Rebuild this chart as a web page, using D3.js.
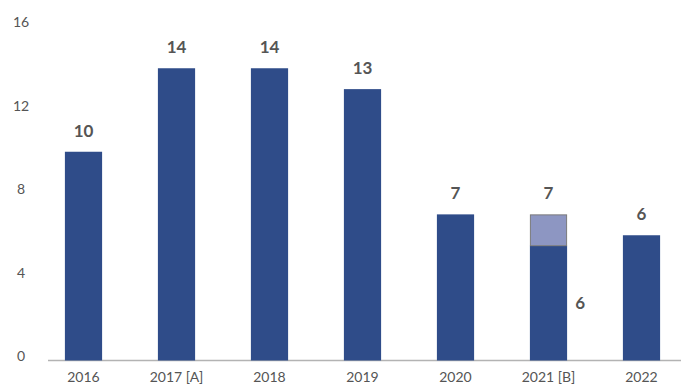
<!DOCTYPE html>
<html><head><meta charset="utf-8">
<script src="https://cdn.jsdelivr.net/npm/d3@7"></script>
<style>body{margin:0;background:#fff}svg{display:block}</style>
</head><body><svg id="c" width="681" height="389"></svg>
<script>
const categories = ["2016","2017 [A]","2018","2019","2020","2021 [B]","2022"];
const baseValues = [10,14,14,13,7,5.5,6];
const extraValues = [0,0,0,0,0,1.5,0];
const totalLabels = ["10","14","14","13","7","7","6"];
const innerLabels = ["","","","","","6",""];
const yTicks = [0,4,8,12,16];

const svg = d3.select("#c");
const x = d3.scaleBand().domain(categories).range([37,688]).paddingInner(0.6).paddingOuter(0.3);
const y = d3.scaleLinear().domain([0,16]).range([360.5,26.5]);
const font = "Lato, 'Open Sans', sans-serif";

// baseline
svg.append("line").attr("x1",48).attr("x2",681).attr("y1",y(0)).attr("y2",y(0))
  .attr("stroke","#b3b3b3").attr("stroke-width",1.3);

// y tick labels
svg.append("g").selectAll("text").data(yTicks).join("text")
  .attr("x",21).attr("y",d=>y(d)-4).attr("text-anchor","middle").attr("dy","0.35em")
  .attr("font-family",font).attr("font-size",14).attr("fill","#555").text(d=>d);

// x labels
svg.append("g").selectAll("text").data(categories).join("text")
  .attr("x",d=>x(d)+x.bandwidth()/2).attr("y",377).attr("text-anchor","middle").attr("dy","0.35em")
  .attr("font-family",font).attr("font-size",14).attr("fill","#555").text(d=>d);

// base bars
svg.append("g").selectAll("rect").data(categories).join("rect")
  .attr("x",d=>x(d)).attr("width",x.bandwidth())
  .attr("y",(d,i)=>y(baseValues[i])).attr("height",(d,i)=>y(0)-y(baseValues[i]))
  .attr("fill","#2f4c89");

// extra segments
svg.append("g").selectAll("rect").data(categories.filter((d,i)=>extraValues[i]>0)).join("rect")
  .attr("x",d=>x(d)+0.5).attr("width",x.bandwidth()-1)
  .attr("y",d=>{const i=categories.indexOf(d);return y(baseValues[i]+extraValues[i])+0.5;})
  .attr("height",d=>{const i=categories.indexOf(d);return y(baseValues[i])-y(baseValues[i]+extraValues[i])-0.5;})
  .attr("fill","#8d96c2").attr("stroke","#7a7a7a").attr("stroke-width",1);

// total labels
svg.append("g").selectAll("text").data(categories).join("text")
  .attr("x",d=>x(d)+x.bandwidth()/2)
  .attr("y",(d,i)=>y(baseValues[i]+extraValues[i])-21).attr("dy","0.35em")
  .attr("text-anchor","middle").attr("font-family",font).attr("font-size",17).attr("font-weight",700)
  .attr("fill","#555").text((d,i)=>totalLabels[i]);

// inner labels
svg.append("g").selectAll("text").data(categories.filter((d,i)=>innerLabels[i])).join("text")
  .attr("x",d=>x(d)+x.bandwidth()+13)
  .attr("y",d=>{const i=categories.indexOf(d);return (y(0)+y(baseValues[i]))/2;}).attr("dy","0.35em")
  .attr("text-anchor","middle").attr("font-family",font).attr("font-size",17).attr("font-weight",700)
  .attr("fill","#555").text(d=>innerLabels[categories.indexOf(d)]);
</script></body></html>
